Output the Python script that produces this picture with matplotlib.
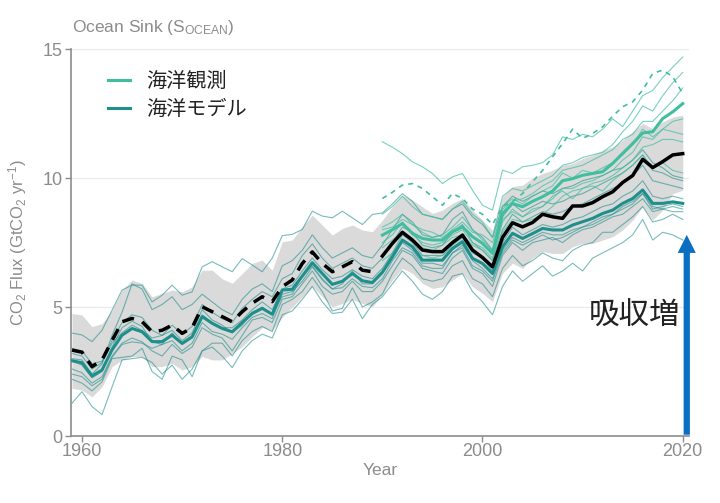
import numpy as np
import matplotlib
matplotlib.use('Agg')
import matplotlib.pyplot as plt

plt.rcParams['font.family'] = ['Liberation Sans', 'Noto Sans CJK JP']
plt.rcParams['mathtext.default'] = 'regular'

# ---- データ (1959-2020) ----
years = np.arange(1959, 2021)
obs_years = np.arange(1990, 2021)

# GCB推定 (黒線)
gcb = [3.33, 3.25, 2.69, 2.95, 3.70, 4.43, 4.56, 4.43, 4.04, 4.10,
       4.30, 3.98, 4.20, 5.01, 4.82, 4.63, 4.43, 4.82, 5.15, 5.40,
       5.21, 5.79, 6.05, 6.69, 7.14, 6.69, 6.37, 6.56, 6.76, 6.43,
       6.37, 6.98, 7.47, 7.90, 7.60, 7.21, 7.15, 7.15, 7.50, 7.79,
       7.21, 6.92, 6.56, 7.70, 8.27, 8.11, 8.28, 8.60, 8.50, 8.44,
       8.92, 8.92, 9.05, 9.28, 9.47, 9.83, 10.10, 10.73, 10.41, 10.64,
       10.90, 10.95]

# 不確実性の幅
band_hi = [4.75, 4.69, 4.24, 4.36, 4.88, 5.66, 6.05, 5.92, 5.40, 5.53,
           5.66, 5.59, 5.79, 6.43, 6.43, 6.10, 5.92, 6.30, 6.69, 6.82,
           6.43, 7.53, 7.60, 8.11, 8.57, 8.18, 7.79, 8.05, 8.18, 7.99,
           7.92, 8.37, 8.89, 9.34, 9.15, 8.89, 8.63, 8.76, 9.02, 9.21,
           8.76, 8.37, 7.98, 9.28, 9.67, 9.73, 10.00, 10.18, 10.31, 10.50,
           10.57, 10.76, 10.89, 11.08, 11.21, 11.47, 11.80, 12.12, 11.92, 12.18,
           12.37, 12.44]
band_lo = [1.85, 1.78, 1.52, 1.91, 2.69, 2.95, 3.08, 3.08, 2.69, 2.69,
           2.82, 2.56, 2.69, 3.08, 2.95, 2.95, 3.20, 3.46, 3.85, 4.20,
           4.10, 4.60, 5.00, 5.40, 5.80, 5.40, 5.01, 5.14, 5.30, 5.14,
           5.01, 5.50, 6.05, 6.50, 6.31, 5.92, 5.72, 5.79, 6.05, 6.31,
           5.79, 5.53, 5.21, 6.31, 6.70, 6.50, 6.90, 7.15, 7.08, 7.08,
           7.34, 7.47, 7.47, 7.60, 7.73, 7.99, 8.37, 8.89, 8.37, 8.76,
           9.40, 9.53]

# 海洋モデル平均
model_mean = [2.92, 2.84, 2.33, 2.56, 3.34, 3.91, 4.17, 4.04, 3.66, 3.66,
              3.91, 3.59, 3.85, 4.63, 4.37, 4.17, 4.04, 4.40, 4.75, 4.95,
              4.72, 5.66, 5.69, 6.20, 6.72, 6.30, 5.88, 6.00, 6.30, 6.02,
              5.95, 6.35, 6.95, 7.60, 7.34, 6.82, 6.82, 6.82, 7.27, 7.53,
              6.89, 6.69, 6.30, 7.34, 7.86, 7.66, 7.85, 8.05, 7.99, 7.99,
              8.18, 8.31, 8.44, 8.63, 8.76, 9.02, 9.21, 9.54, 9.02, 9.02,
              9.08, 9.02]

# 個々の海洋モデル
model_1 = [3.99, 3.92, 3.66, 4.10, 4.88, 5.66, 5.85, 5.85, 5.20, 5.46,
           5.85, 5.46, 5.59, 6.56, 6.76, 6.56, 6.37, 6.88, 6.63, 6.37,
           6.90, 7.77, 7.82, 8.01, 8.72, 8.53, 8.46, 8.72, 8.46, 8.20,
           8.59, 8.65, 9.00, 9.40, 9.10, 8.60, 8.50, 8.40, 8.80, 9.00,
           8.50, 8.20, 7.70, 8.90, 9.30, 9.10, 9.30, 9.50, 9.40, 9.60,
           9.70, 9.90, 10.00, 10.10, 10.30, 10.40, 10.70, 11.10, 10.60, 10.40,
           10.10, 10.00]
model_2 = [3.20, 3.10, 2.60, 2.85, 3.60, 4.00, 4.30, 4.10, 3.80, 3.90,
           4.10, 3.70, 4.00, 4.90, 4.50, 4.30, 4.00, 4.30, 4.80, 5.00,
           4.70, 5.40, 5.50, 6.20, 6.60, 6.10, 5.70, 5.90, 6.40, 5.90,
           5.90, 6.30, 6.90, 7.50, 7.20, 6.70, 6.70, 6.60, 7.10, 7.40,
           6.80, 6.50, 6.10, 7.20, 7.70, 7.50, 7.70, 7.90, 7.80, 7.80,
           8.00, 8.10, 8.30, 8.50, 8.60, 8.90, 9.10, 9.40, 8.90, 8.80,
           8.90, 8.80]
model_3 = [3.00, 2.95, 2.40, 2.80, 3.90, 4.80, 5.90, 5.70, 4.90, 5.10,
           5.40, 4.90, 5.10, 5.50, 5.20, 4.90, 4.70, 5.30, 5.70, 5.90,
           5.60, 6.60, 6.80, 7.20, 7.80, 7.30, 6.90, 7.10, 7.30, 7.00,
           6.90, 7.40, 8.00, 8.60, 8.30, 7.80, 7.70, 7.80, 8.40, 8.70,
           8.00, 7.70, 7.20, 8.50, 9.00, 8.70, 8.90, 9.10, 9.00, 9.10,
           9.30, 9.40, 9.60, 9.80, 10.00, 10.20, 10.50, 10.90, 10.30, 10.20,
           10.00, 9.90]
model_4 = [2.40, 2.30, 1.95, 2.20, 3.05, 3.55, 3.65, 3.60, 3.40, 3.55,
           3.70, 3.30, 3.60, 4.40, 4.05, 3.95, 3.75, 4.20, 4.60, 4.75,
           4.55, 5.50, 5.60, 6.00, 6.55, 6.05, 5.70, 5.75, 6.10, 5.80,
           5.75, 6.10, 6.80, 7.30, 7.10, 6.60, 6.50, 6.50, 7.10, 7.30,
           6.60, 6.40, 6.00, 7.10, 7.60, 7.40, 7.60, 7.80, 7.60, 7.70,
           7.90, 8.10, 8.20, 8.40, 8.60, 8.80, 9.00, 9.40, 8.80, 8.90,
           9.00, 8.90]
model_5 = [3.40, 3.30, 2.80, 2.90, 3.70, 4.40, 4.70, 4.60, 4.10, 3.90,
           4.30, 3.95, 4.25, 5.10, 4.80, 4.55, 4.40, 4.95, 5.30, 5.60,
           5.40, 6.10, 6.30, 7.00, 7.45, 6.90, 6.50, 6.70, 6.90, 6.60,
           6.50, 6.90, 7.50, 8.10, 7.90, 7.40, 7.30, 7.40, 7.90, 8.20,
           7.50, 7.20, 6.80, 8.00, 8.60, 8.30, 8.50, 8.70, 8.60, 8.70,
           8.90, 9.00, 9.20, 9.40, 9.60, 9.80, 10.10, 10.50, 9.90, 9.80,
           9.70, 9.60]
model_6 = [2.90, 2.75, 2.25, 2.50, 3.45, 4.20, 4.45, 4.25, 3.65, 3.55,
           4.00, 3.55, 3.80, 4.70, 4.40, 4.20, 4.20, 4.50, 4.90, 5.20,
           4.90, 5.70, 5.85, 6.40, 6.90, 6.45, 6.10, 6.20, 6.45, 6.20,
           6.10, 6.50, 7.10, 7.80, 7.50, 7.00, 7.00, 7.00, 7.40, 7.70,
           7.10, 6.90, 6.40, 7.50, 8.10, 7.80, 8.00, 8.20, 8.10, 8.20,
           8.40, 8.50, 8.70, 8.90, 9.00, 9.30, 9.50, 9.90, 9.30, 9.20,
           9.30, 9.20]
model_7 = [2.60, 2.45, 2.05, 2.30, 3.10, 3.60, 3.80, 3.65, 3.30, 3.10,
           3.55, 3.20, 3.45, 4.20, 3.95, 3.80, 3.30, 3.90, 4.50, 4.60,
           4.40, 5.30, 5.40, 5.90, 6.40, 5.80, 5.50, 5.60, 6.00, 5.60,
           5.60, 6.00, 6.60, 7.20, 7.00, 6.50, 6.40, 6.30, 6.90, 7.20,
           6.50, 6.30, 5.80, 7.00, 7.50, 7.20, 7.50, 7.60, 7.70, 7.50,
           7.80, 8.00, 8.10, 8.30, 8.50, 8.60, 8.90, 9.20, 8.70, 8.80,
           8.70, 8.70]
model_8 = [2.20, 2.05, 1.75, 2.10, 3.00, 3.05, 3.10, 3.40, 2.50, 2.20,
           3.10, 2.95, 2.30, 3.30, 3.60, 3.60, 3.10, 3.70, 4.05, 4.25,
           4.05, 5.10, 5.30, 5.60, 6.15, 5.60, 4.85, 4.95, 5.75, 5.00,
           5.20, 5.50, 6.30, 6.90, 6.60, 6.10, 6.00, 6.10, 6.60, 6.80,
           6.10, 5.90, 5.40, 6.50, 7.00, 6.60, 6.80, 7.10, 6.90, 6.80,
           7.20, 7.40, 7.50, 7.90, 7.90, 8.20, 8.50, 8.90, 8.30, 8.40,
           8.60, 8.40]
model_9 = [1.27, 1.72, 1.14, 0.83, 1.90, 2.95, 3.00, 3.05, 2.85, 2.40,
           2.75, 2.20, 2.60, 3.30, 3.45, 3.10, 2.65, 3.30, 3.70, 3.95,
           3.80, 4.70, 4.85, 5.30, 5.80, 5.20, 4.75, 4.80, 5.30, 4.55,
           5.10, 5.40, 5.90, 6.40, 6.00, 5.50, 5.30, 5.60, 6.20, 6.30,
           5.60, 5.20, 4.70, 5.80, 6.40, 6.00, 6.30, 6.60, 6.20, 6.40,
           6.70, 6.40, 6.90, 7.10, 7.30, 7.50, 7.80, 8.40, 7.60, 7.90,
           7.80, 7.60]

# 海洋観測 (1990-2020)
obs_mean = [7.79, 8.00, 8.24, 7.86, 7.66, 7.60, 7.60, 7.92, 8.11, 7.73,
            7.47, 7.08, 8.63, 9.02, 8.89, 9.10, 9.28, 9.50, 9.90, 9.98,
            10.11, 10.18, 10.25, 10.57, 10.96, 11.34, 11.75, 11.80, 12.31, 12.57,
            12.89]
obs_dashed = [9.21, 9.45, 9.73, 9.79, 9.60, 9.28, 8.95, 9.40, 9.21, 8.80,
              8.60, 8.20, 8.90, 9.10, 9.40, 9.86, 10.30, 10.83, 11.34, 11.90,
              11.54, 11.73, 11.99, 12.40, 12.77, 12.96, 13.41, 14.06, 14.19, 13.93,
              13.28]
obs_top = [11.41, 11.20, 10.95, 10.63, 10.44, 10.18, 9.79, 10.05, 10.18, 9.53,
           8.95, 8.76, 10.31, 10.18, 10.44, 10.50, 10.60, 10.90, 11.60, 11.50,
           11.70, 11.60, 11.90, 12.30, 12.00, 12.60, 13.20, 13.40, 13.90, 14.30,
           14.70]
obs_a = [8.60, 8.90, 9.30, 8.90, 8.60, 8.50, 8.40, 8.80, 9.10, 8.60,
         8.30, 7.70, 9.30, 9.60, 9.50, 9.70, 9.90, 10.10, 10.50, 10.60,
         10.80, 10.90, 11.00, 11.30, 11.80, 12.20, 12.80, 12.60, 13.20, 13.70,
         14.10]
obs_b = [7.30, 7.60, 7.90, 7.50, 7.30, 7.20, 7.40, 7.70, 7.80, 7.40,
         7.20, 6.80, 8.30, 8.80, 8.50, 8.70, 8.90, 9.20, 9.60, 9.60,
         9.80, 9.90, 10.10, 10.30, 10.70, 11.00, 11.60, 11.50, 11.90, 12.20,
         12.30]
obs_c = [8.10, 8.30, 8.60, 8.20, 7.90, 7.70, 7.80, 8.10, 8.50, 8.00,
         7.60, 7.20, 8.90, 9.20, 9.00, 9.30, 9.50, 9.70, 10.20, 10.00,
         10.30, 10.20, 10.40, 10.60, 10.90, 11.30, 11.90, 11.60, 11.90, 11.80,
         11.70]
obs_d = [6.80, 7.10, 7.60, 7.30, 7.00, 6.90, 7.00, 7.30, 7.60, 7.20,
         6.90, 6.40, 7.90, 8.40, 8.30, 8.40, 8.60, 8.90, 9.30, 9.50,
         9.60, 9.80, 9.90, 10.10, 10.40, 10.70, 11.20, 11.30, 11.50, 11.50,
         11.40]
obs_e = [7.50, 7.80, 8.30, 7.80, 7.50, 7.40, 7.50, 7.80, 8.00, 7.50,
         7.30, 6.90, 8.40, 8.70, 8.50, 8.80, 8.90, 9.30, 9.50, 9.20,
         9.60, 9.70, 9.50, 9.90, 10.20, 10.50, 10.90, 10.40, 10.60, 10.30,
         10.20]
obs_f = [8.00, 8.10, 8.40, 8.20, 8.00, 7.90, 7.70, 8.00, 8.30, 7.90,
         7.80, 7.50, 8.80, 9.10, 9.20, 9.40, 9.70, 9.90, 10.30, 10.40,
         10.50, 10.70, 10.90, 11.10, 11.50, 11.70, 12.20, 12.20, 12.60, 13.00,
         13.50]

models = [model_1, model_2, model_3, model_4, model_5, model_6, model_7, model_8, model_9]
obs_lines = [obs_top, obs_a, obs_b, obs_c, obs_d, obs_e, obs_f]

model_color = '#1f8f8c'
obs_color = '#3fbf9f'
grey = '#8c8c8c'

fig = plt.figure(figsize=(7.2, 5.03), dpi=100)
ax = fig.add_axes([0.0986, 0.1332, 0.858, 0.769])

# 不確実性の帯
ax.fill_between(years, band_lo, band_hi, color='#dadada', linewidth=0, zorder=1)

# 個々のモデル・観測
for m in models:
    ax.plot(years, m, color=model_color, lw=0.8, alpha=0.6, zorder=2)
for o in obs_lines:
    ax.plot(obs_years, o, color=obs_color, lw=0.8, alpha=0.7, zorder=3)
ax.plot(obs_years, obs_dashed, color=obs_color, lw=1.2, dashes=(3, 3), zorder=3)

# 平均
ax.plot(obs_years, obs_mean, color=obs_color, lw=2.2, zorder=4, label='海洋観測')
ax.plot(years, model_mean, color=model_color, lw=2.2, zorder=4, label='海洋モデル')

# GCB推定: 1990年まで破線
gcb = np.array(gcb)
split = np.searchsorted(years, 1990)
ax.plot(years[:split], gcb[:split], color='black', lw=2.5, dashes=(3.5, 2.5), zorder=5)
ax.plot(years[split:], gcb[split:], color='black', lw=2.5, zorder=5)

# 矢印と注記
ax.annotate('', xy=(2020.4, 7.8), xytext=(2020.4, 0.05),
            arrowprops=dict(facecolor='#0a6fc2', edgecolor='none', width=4.5,
                            headwidth=13, headlength=13, shrink=0),
            annotation_clip=False, zorder=6)
ax.text(2019.8, 4.65, '吸収増', ha='right', va='center', fontsize=22,
        family=['Noto Sans CJK JP'], color='#222222', zorder=6)

# 軸
ax.set_xlim(1958.9, 2020.6)
ax.set_ylim(0, 15)
ax.set_xticks([1960, 1980, 2000, 2020])
ax.set_yticks([0, 5, 10, 15])
ax.grid(axis='y', color='#ebebeb', lw=1)
ax.set_axisbelow(True)
for s in ['top', 'right']:
    ax.spines[s].set_visible(False)
for s in ['left', 'bottom']:
    ax.spines[s].set_color(grey)
    ax.spines[s].set_linewidth(1.2)
ax.tick_params(colors=grey, labelsize=13, length=4, width=1, pad=1)
ax.tick_params(axis='y', pad=2)

ax.set_xlabel('Year', color=grey, fontsize=12.5, labelpad=2)
ax.set_ylabel(r'CO$_2$ Flux (GtCO$_2$ yr$^{-1}$)', color=grey, fontsize=12, labelpad=10)
fig.text(0.1, 0.945, r'Ocean Sink (S$_{OCEAN}$)', color=grey, fontsize=12.5, va='center')

leg = ax.legend(loc='upper left', bbox_to_anchor=(0.03, 0.99), frameon=False,
                handlelength=1.1, handletextpad=0.8, labelspacing=0.35,
                prop={'family': ['Noto Sans CJK JP'], 'size': 14.5})
for t in leg.get_texts():
    t.set_color('#222222')

fig.savefig('out.png', dpi=100)
